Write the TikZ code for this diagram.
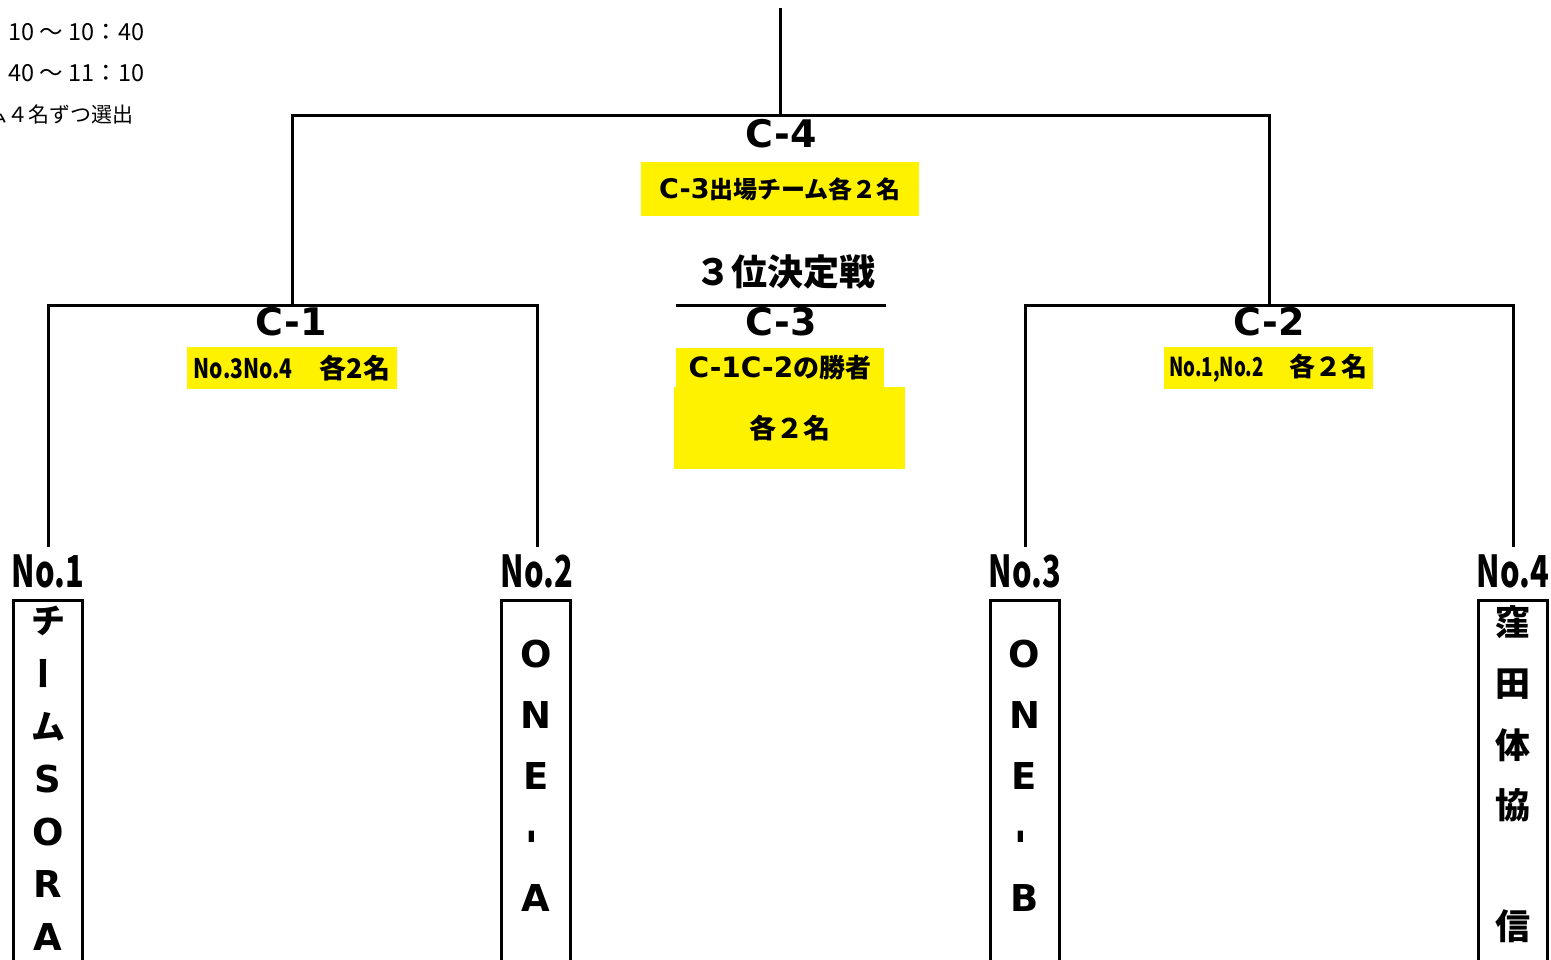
\documentclass[tikz,border=0pt]{standalone}
\usepackage{fontspec}
\usepackage{graphicx}
\setmainfont{DejaVu Sans}
\newfontfamily\jp{Noto Sans CJK JP}
\newcommand\ja[1]{{\jp #1}}
\newcommand\nrw[2][0.75]{\scalebox{#1}[1]{#2}}

\begin{document}
\begin{tikzpicture}[x=1pt,y=-1pt,line width=3pt,
    title/.style={font=\fontsize{38}{40}\selectfont\bfseries,inner sep=0pt},
    note/.style={fill=yellow,inner sep=0pt,font=\bfseries},
    num/.style={font=\jp\fontsize{44}{46}\selectfont\bfseries,inner xsep=0pt,inner ysep=6pt},
    team/.style={draw,minimum width=69pt,minimum height=380pt,anchor=north,inner sep=0pt},
    ch/.style={font=\fontsize{37}{39}\selectfont\bfseries,inner sep=0pt},
    time/.style={font=\jp\fontsize{23.5}{25}\selectfont,inner sep=0pt}]
  \useasboundingbox (0,0) rectangle (1551,960);

  % times
  \node[time,anchor=west] (tm1) at (7,32) {10 ～ 10：40};
  \node[time,anchor=west] (tm2) at (7,73) {40 ～ 11：10};
  \node[time,anchor=east,font=\jp\fontsize{21}{24}\selectfont] (tm3) at (135,115) {ム４名ずつ選出};

  % final
  \node[title] (c4) at (781,134) {C-4};
  \node[note,minimum width=278pt,minimum height=54pt] (c4n) at (780,189)
    {\fontsize{27}{30}\selectfont C-3\fontsize{24}{26}\selectfont\ja{出場チーム各２名}};

  % third place
  \node[font=\jp\fontsize{36}{40}\selectfont\bfseries,inner sep=0pt] (third) at (785,272) {３位決定戦};
  \node[title] (c3) at (781,322) {C-3};
  \node[note,minimum width=231pt,minimum height=82pt] (c3m) at (789.5,428)
    {\ja{\fontsize{27}{30}\selectfont 各２名}};
  \node[note,minimum width=208pt,minimum height=39pt] (c3n) at (780,367.5)
    {\fontsize{28}{30}\selectfont C-1C-2\fontsize{26}{30}\selectfont\ja{の勝者}};

  % semifinals
  \node[title] (c1) at (291,322) {C-1};
  \node[note,minimum width=210pt,minimum height=42pt] (c1n) at (292,368)
    {\jp\fontsize{27}{30}\selectfont\bfseries\nrw[0.78]{No.3No.4}　各2名};
  \node[title] (c2) at (1269,322) {C-2};
  \node[note,minimum width=209pt,minimum height=42pt] (c2n) at (1268.5,368)
    {\jp\fontsize{26}{30}\selectfont\bfseries\nrw[0.72]{No.1,No.2}　各２名};

  % entries
  \node[num] (n1) at (48,571) {\nrw[0.7]{No.1}};
  \node[num] (n2) at (537,571) {\nrw[0.7]{No.2}};
  \node[num] (n3) at (1025,571) {\nrw[0.7]{No.3}};
  \node[num] (n4) at (1513,571) {\nrw[0.7]{No.4}};

  \node[team] (box1) at (48,599) {};
  \node[team] (box2) at (536,599) {};
  \node[team] (box3) at (1024.5,599) {};
  \node[team] (box4) at (1513,599) {};

  \foreach \c [count=\i] in {{\fontsize{34}{36}\selectfont\ja{チ}},
      {\rotatebox{90}{\fontsize{34}{36}\selectfont\ja{ー}}},
      {\fontsize{34}{36}\selectfont\ja{ム}},S,O,R,A}
    \node[ch] (t1-\i) at (48,{621+(\i-1)*52.7}) {\c};
  \foreach \c [count=\i] in {O,N,E,{\rotatebox{90}{-}},A}
    \node[ch] (t2-\i) at (536,{654+(\i-1)*61}) {\c};
  \foreach \c [count=\i] in {O,N,E,{\rotatebox{90}{-}},B}
    \node[ch] (t3-\i) at (1024.5,{654+(\i-1)*61}) {\c};
  \foreach \c/\y [count=\i] in {窪/622,田/684,体/745,協/805,信/926}
    \node[ch] (t4-\i) at (1513,\y) {\ja{\fontsize{35}{38}\selectfont\c}};

  % bracket lines
  \coordinate (top) at (780,8);
  \coordinate (j4) at (780,116);
  \coordinate (j1) at (292,305);
  \coordinate (j2) at (1269,305);
  \coordinate (r1) at (676,305);
  \coordinate (r2) at (886,305);
  \draw (top) -- (j4);
  \draw (j1) |- (j4) -| (j2);
  \draw (n1.north) |- (j1) -| (n2.north);
  \draw (n3.north) |- (j2) -| (n4.north);
  \draw (r1) -- (r2);
\end{tikzpicture}
\end{document}
